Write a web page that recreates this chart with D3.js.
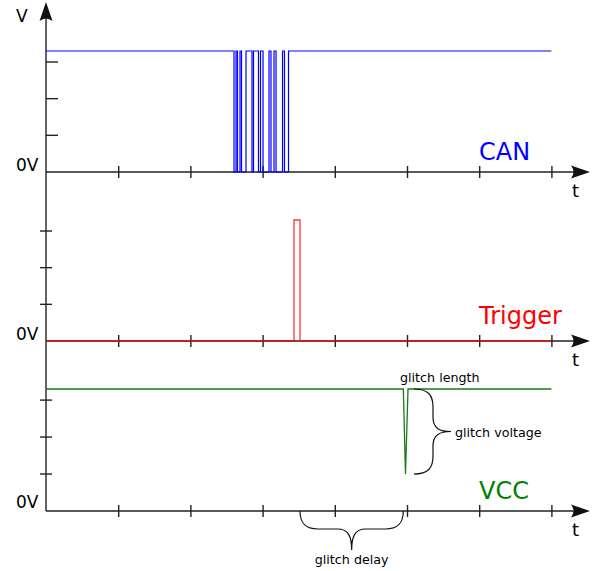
<!DOCTYPE html>
<html>
<head>
<meta charset="utf-8">
<script src="https://cdn.jsdelivr.net/npm/d3@7"></script>
<style>
  body { margin: 0; background: #fff; }
  text { font-family: "DejaVu Sans", sans-serif; }
</style>
</head>
<body>
<div id="chart"></div>
<script>
// time ticks and voltage ticks
var timeTicks = [1, 2, 3, 4, 5, 6, 7];
var voltTicks = [1, 2, 3];
var highLevel = 3.3;

// CAN burst: times where the line toggles (starts high, ends high)
var canEdges = [2.604, 2.632, 2.652, 2.687, 2.708, 2.770, 2.853, 2.874, 2.943,
                2.971, 3.006, 3.089, 3.116, 3.158, 3.186, 3.276, 3.303, 3.359];

// trigger pulse start / end
var triggerPulse = [3.435, 3.518];

// VCC glitch: [time, volts]
var vccPoints = [[0, 3.3], [4.949, 3.3], [4.979, 1.0], [5.014, 3.3], [7, 3.3]];

var panels = [
  {name: "CAN", color: "#0000ff", base: 172, top: 51, oneSidedTicks: true},
  {name: "Trigger", color: "#ff0000", base: 341, top: 220, oneSidedTicks: false},
  {name: "VCC", color: "#008000", base: 511, top: 389, oneSidedTicks: false}
];

var width = 598, height = 571;
var axisColor = "#222";

var svg = d3.select("#chart").append("svg")
    .attr("width", width)
    .attr("height", height);

var x = d3.scaleLinear().domain([0, 7]).range([46, 551.4]);
var tEnd = x.invert(590);

function arrowH(px, py) {
  return "M" + px + "," + py + " L" + (px - 19) + "," + (py - 6.5) +
         " Q" + (px - 14) + "," + py + " " + (px - 19) + "," + (py + 6.5) + " Z";
}
function arrowV(px, py) {
  return "M" + px + "," + py + " L" + (px - 6.5) + "," + (py + 19) +
         " Q" + px + "," + (py + 14) + " " + (px + 6.5) + "," + (py + 19) + " Z";
}

// vertical axis
svg.append("line")
    .attr("x1", x(0)).attr("x2", x(0))
    .attr("y1", 8).attr("y2", panels[2].base)
    .attr("stroke", axisColor).attr("stroke-width", 1.4);
svg.append("path").attr("d", arrowV(x(0), 2)).attr("fill", "#111");
svg.append("text").attr("x", 16).attr("y", 22)
    .style("font-size", "17px").text("V");

panels.forEach(function(p) {
  p.y = d3.scaleLinear().domain([0, highLevel]).range([p.base, p.top]);

  // x axis with ticks crossing the line
  var ax = svg.append("g")
      .attr("transform", "translate(0," + p.base + ")")
      .call(d3.axisBottom(x).tickValues(timeTicks).tickSize(6).tickFormat(""));
  ax.select(".domain").remove();
  ax.selectAll(".tick line")
      .attr("y1", -6).attr("y2", 6)
      .attr("stroke", axisColor).attr("stroke-width", 1.4);

  svg.append("line")
      .attr("x1", x(0)).attr("x2", x(tEnd) - 8)
      .attr("y1", p.base).attr("y2", p.base)
      .attr("stroke", axisColor).attr("stroke-width", 1.4);
  svg.append("path").attr("d", arrowH(x(tEnd), p.base)).attr("fill", "#111");

  // voltage ticks
  svg.selectAll(null)
      .data(voltTicks)
      .enter().append("line")
      .attr("x1", p.oneSidedTicks ? x(0) : x(0) - 6)
      .attr("x2", p.oneSidedTicks ? x(0) + 12 : x(0) + 6)
      .attr("y1", function(d) { return p.y(d); })
      .attr("y2", function(d) { return p.y(d); })
      .attr("stroke", axisColor).attr("stroke-width", 1.4);

  svg.append("text").attr("x", 16).attr("y", p.base - (p.name === "VCC" ? 3 : 1))
      .style("font-size", "17px").text("0V");
  svg.append("text").attr("x", 572).attr("y", p.base + 25)
      .style("font-size", "18px").text("t");

  svg.append("text")
      .attr("x", 479).attr("y", p.base - (p.name === "Trigger" ? 17 : 12))
      .attr("fill", p.color)
      .style("font-size", "24px").text(p.name);
});

// signals
var stepLine = function(yScale) {
  return d3.line()
      .x(function(d) { return x(d[0]); })
      .y(function(d) { return yScale(d[1]); })
      .curve(d3.curveStepAfter);
};

var canPts = [[0, highLevel]];
canEdges.forEach(function(t, i) { canPts.push([t, i % 2 === 0 ? 0 : highLevel]); });
canPts.push([7, highLevel]);

svg.append("path")
    .attr("d", stepLine(panels[0].y)(canPts))
    .attr("fill", "none").attr("stroke", panels[0].color)
    .attr("stroke-width", 1.2);

var trigPts = [[0, 0], [triggerPulse[0], highLevel], [triggerPulse[1], 0], [7, 0]];
svg.append("path")
    .attr("d", stepLine(panels[1].y)(trigPts))
    .attr("fill", "none").attr("stroke", panels[1].color)
    .attr("stroke-width", 1.3).attr("stroke-opacity", 0.8);

svg.append("path")
    .attr("d", d3.line()
        .x(function(d) { return x(d[0]); })
        .y(function(d) { return panels[2].y(d[1]); })(vccPoints))
    .attr("fill", "none").attr("stroke", "#1a7a1a")
    .attr("stroke-width", 1.3);

// annotations
var gTop = panels[2].y(highLevel), gBot = panels[2].y(1.0);
var bx = x(vccPoints[3][0]) + 6, bm = (gTop + gBot) / 2;
svg.append("path")
    .attr("d", "M" + bx + "," + gTop +
        " C" + (bx + 14) + "," + gTop + " " + (bx + 19) + "," + (gTop + 6) + " " + (bx + 19) + "," + (gTop + 18) +
        " L" + (bx + 19) + "," + (bm - 14) +
        " C" + (bx + 19) + "," + (bm - 3) + " " + (bx + 26) + "," + bm + " " + (bx + 37) + "," + bm +
        " C" + (bx + 26) + "," + bm + " " + (bx + 19) + "," + (bm + 3) + " " + (bx + 19) + "," + (bm + 14) +
        " L" + (bx + 19) + "," + (gBot - 18) +
        " C" + (bx + 19) + "," + (gBot - 6) + " " + (bx + 14) + "," + gBot + " " + bx + "," + gBot)
    .attr("fill", "none").attr("stroke", "#111").attr("stroke-width", 1.2);

var dx0 = x(triggerPulse[1]), dx1 = x(vccPoints[1][0]), dy = panels[2].base;
var dm = (dx0 + dx1) / 2;
svg.append("path")
    .attr("d", "M" + dx0 + "," + dy +
        " C" + dx0 + "," + (dy + 12) + " " + (dx0 + 5) + "," + (dy + 18) + " " + (dx0 + 18) + "," + (dy + 18) +
        " L" + (dm - 14) + "," + (dy + 18) +
        " C" + (dm - 3) + "," + (dy + 18) + " " + dm + "," + (dy + 26) + " " + dm + "," + (dy + 39) +
        " C" + dm + "," + (dy + 26) + " " + (dm + 3) + "," + (dy + 18) + " " + (dm + 14) + "," + (dy + 18) +
        " L" + (dx1 - 18) + "," + (dy + 18) +
        " C" + (dx1 - 5) + "," + (dy + 18) + " " + dx1 + "," + (dy + 12) + " " + dx1 + "," + dy)
    .attr("fill", "none").attr("stroke", "#111").attr("stroke-width", 1.2);

svg.append("text").attr("x", 400).attr("y", 382)
    .style("font-size", "12.7px").text("glitch length");
svg.append("text").attr("x", bx + 41).attr("y", bm + 5)
    .style("font-size", "12.7px").text("glitch voltage");
svg.append("text").attr("x", dm).attr("y", 564).attr("text-anchor", "middle")
    .style("font-size", "12.7px").text("glitch delay");
</script>
</body>
</html>
